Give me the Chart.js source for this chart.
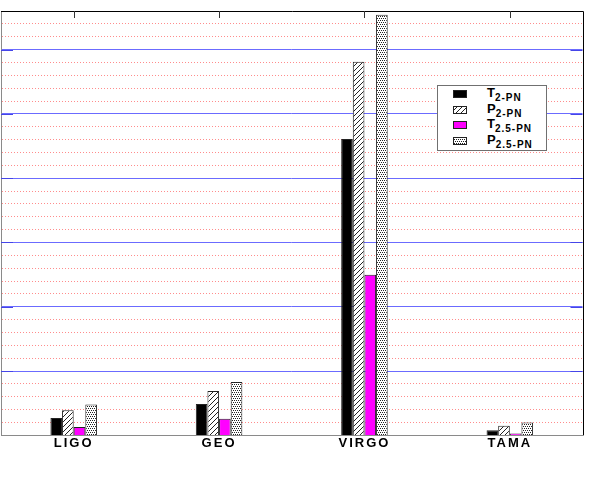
<!DOCTYPE html>
<html>
<head>
<meta charset="utf-8">
<script src="https://cdn.jsdelivr.net/npm/chart.js@4.4.1/dist/chart.umd.min.js"></script>
<style>
  html, body { margin: 0; padding: 0; background: #fff; }
  #wrap { position: relative; width: 599px; height: 491px; }
  #legend {
    position: absolute; left: 437px; top: 85px; width: 108px; height: 64px;
    border: 1px solid #707070; background: #fff;
    font-family: "Liberation Sans", Arial, sans-serif; font-weight: bold; color: #000;
  }
  .row { position: absolute; left: 0; width: 108px; height: 15px; }
  .row canvas { position: absolute; left: 15px; }
  .row .txt { position: absolute; left: 49px; top: 0; font-size: 13px; line-height: 12px; white-space: nowrap; }
  .row .txt span { font-size: 10px; letter-spacing: 1px; position: relative; top: 4px; }
</style>
</head>
<body>
<div id="wrap">
  <canvas id="chart" width="599" height="491"></canvas>
  <div id="legend"></div>
</div>
<script>
// valeurs (unites = graduations majeures)
const categories = ['LIGO', 'GEO', 'VIRGO', 'TAMA'];
const t2pn  = [0.27, 0.49, 4.61, 0.08];
const p2pn  = [0.39, 0.69, 5.81, 0.15];
const t25pn = [0.13, 0.26, 2.50, 0.03];
const p25pn = [0.48, 0.83, 6.54, 0.20];
const seriesLetters = ['T', 'P', 'T', 'P'];
const seriesSubs = ['2-PN', '2-PN', '2.5-PN', '2.5-PN'];
const yMax = 6.6;

// motifs de remplissage
function hatchPattern() {
    const c = document.createElement('canvas');
    c.width = 5; c.height = 5;
    const g = c.getContext('2d');
    g.fillStyle = '#fff';
    g.fillRect(0, 0, 5, 5);
    g.strokeStyle = '#222';
    g.lineWidth = 1;
    g.beginPath();
    g.moveTo(0, 5); g.lineTo(5, 0);
    g.moveTo(-1, 1); g.lineTo(1, -1);
    g.moveTo(4, 6); g.lineTo(6, 4);
    g.stroke();
    return g.createPattern(c, 'repeat');
}

function dotPattern() {
    const c = document.createElement('canvas');
    c.width = 4; c.height = 4;
    const g = c.getContext('2d');
    g.fillStyle = '#fff';
    g.fillRect(0, 0, 4, 4);
    g.fillStyle = '#222';
    g.fillRect(0, 0, 1, 1);
    g.fillRect(2, 0, 1, 1);
    g.fillRect(1, 2, 1, 1);
    g.fillRect(3, 2, 1, 1);
    return g.createPattern(c, 'repeat');
}

const fills = ['#000', hatchPattern(), '#ff00ff', dotPattern()];

// legende HTML (indices en vrai texte)
function buildLegend() {
    const box = document.getElementById('legend');
    seriesLetters.forEach((letter, i) => {
        const row = document.createElement('div');
        row.className = 'row';
        row.style.top = (1 + i * 15.5) + 'px';
        const sw = document.createElement('canvas');
        sw.width = 14; sw.height = 8;
        sw.style.top = '3px';
        const g = sw.getContext('2d');
        g.fillStyle = fills[i];
        g.fillRect(0, 0, 14, 8);
        g.strokeStyle = '#222';
        g.strokeRect(0.5, 0.5, 13, 7);
        row.appendChild(sw);
        const txt = document.createElement('div');
        txt.className = 'txt';
        txt.innerHTML = `${letter}<span>${seriesSubs[i]}</span>`;
        row.appendChild(txt);
        box.appendChild(row);
    });
}

const isMajor = (v) => Math.abs(v - Math.round(v)) < 1e-6;

const framePlugin = {
    id: 'frame',
    beforeDraw(chart) {
        chart.ctx.letterSpacing = '2px';
    },
    afterDraw(chart) {
        const { ctx, chartArea: a, scales } = chart;
        ctx.save();
        ctx.letterSpacing = '0px';
        // cadre haut et droite
        ctx.strokeStyle = '#000';
        ctx.lineWidth = 1;
        ctx.beginPath();
        ctx.moveTo(a.left, Math.round(a.top) + 0.5);
        ctx.lineTo(Math.round(a.right) + 0.5, Math.round(a.top) + 0.5);
        ctx.lineTo(Math.round(a.right) + 0.5, a.bottom);
        ctx.stroke();
        // petites graduations en haut
        ctx.strokeStyle = '#333';
        ctx.beginPath();
        categories.forEach((c, i) => {
            const x = Math.round(scales.x.getPixelForValue(i)) + 0.5;
            ctx.moveTo(x, a.top);
            ctx.lineTo(x, a.top + 7);
        });
        ctx.stroke();
        // graduations majeures gauche / droite
        ctx.strokeStyle = '#4545e8';
        ctx.lineWidth = 1;
        ctx.beginPath();
        for (let v = 1; v <= Math.floor(yMax); v++) {
            const y = Math.round(scales.y2.getPixelForValue(v)) + 0.5;
            ctx.moveTo(a.left, y); ctx.lineTo(a.left + 12, y);
            ctx.moveTo(a.right - 12, y); ctx.lineTo(a.right, y);
        }
        ctx.stroke();
        ctx.restore();
    }
};

document.addEventListener('DOMContentLoaded', () => {
    buildLegend();
    const ctx = document.getElementById('chart').getContext('2d');
    const border = '#222';

    new Chart(ctx, {
        type: 'bar',
        data: {
            labels: categories,
            datasets: [
                { label: 'T2-PN', data: t2pn, backgroundColor: fills[0], borderColor: border, borderWidth: 1 },
                { label: 'P2-PN', data: p2pn, backgroundColor: fills[1], borderColor: border, borderWidth: 1 },
                { label: 'T2.5-PN', data: t25pn, backgroundColor: fills[2], borderColor: border, borderWidth: 1 },
                { label: 'P2.5-PN', data: p25pn, backgroundColor: fills[3], borderColor: border, borderWidth: 1 }
            ]
        },
        options: {
            responsive: false,
            animation: false,
            layout: { padding: { left: 1, top: 11, right: 16.5, bottom: 40 } },
            categoryPercentage: 0.32,
            barPercentage: 1,
            plugins: { legend: { display: false }, tooltip: { enabled: false } },
            scales: {
                x: {
                    grid: { display: false, drawTicks: false },
                    border: { display: true, color: '#8a8a8a', width: 1 },
                    ticks: {
                        color: '#000',
                        padding: 0,
                        font: { family: '"Liberation Sans", Arial, sans-serif', size: 13, weight: 'bold' }
                    }
                },
                y: {
                    min: 0, max: yMax,
                    ticks: { display: false, stepSize: 0.2 },
                    grid: {
                        drawTicks: false,
                        lineWidth: 1,
                        color: (c) => (c.tick && isMajor(c.tick.value)) ? 'rgba(0,0,0,0)' : '#ff8c8c'
                    },
                    border: { display: true, color: '#8a8a8a', dash: [1, 2] }
                },
                y2: {
                    position: 'left',
                    min: 0, max: yMax,
                    ticks: { display: false, stepSize: 1 },
                    grid: {
                        drawTicks: false,
                        lineWidth: 1,
                        color: (c) => (c.tick && c.tick.value > 0 && isMajor(c.tick.value)) ? '#6b6bff' : 'rgba(0,0,0,0)'
                    },
                    border: { display: false }
                }
            }
        },
        plugins: [framePlugin]
    });
});
</script>
</body>
</html>
